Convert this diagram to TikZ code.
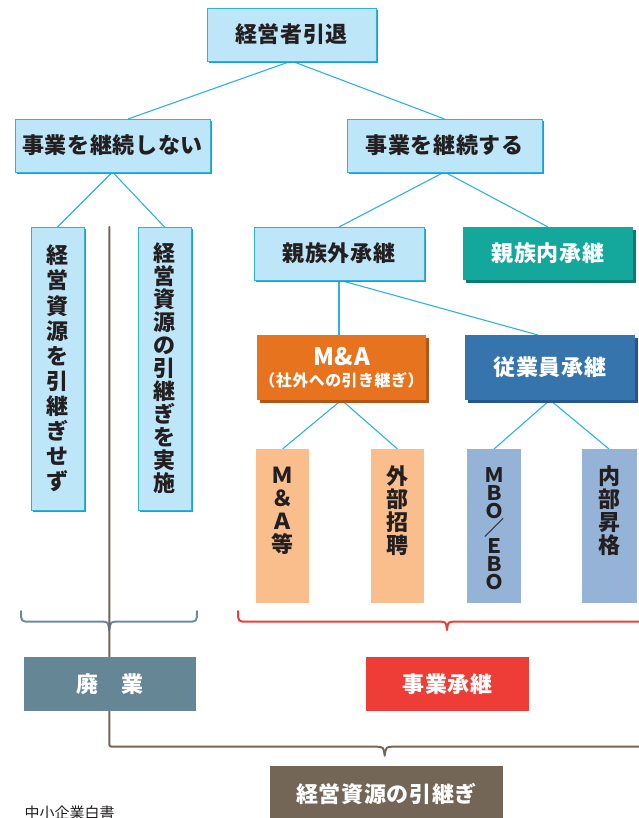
\documentclass[tikz,border=0pt]{standalone}
\usepackage{fontspec}
\setmainfont{Noto Sans CJK JP}
\newfontfamily\jpls{Noto Sans CJK JP}[LetterSpace=3]
\newfontfamily\jp{Noto Sans CJK JP}
\usetikzlibrary{shadows,backgrounds,calc}
\definecolor{cyanl}{HTML}{2DB2E0}
\definecolor{lbfill}{HTML}{BEE6F9}
\definecolor{lbshadow}{HTML}{16A2D4}
\definecolor{teal}{HTML}{13A89B}
\definecolor{tealsh}{HTML}{0B7C72}
\definecolor{orng}{HTML}{E8731F}
\definecolor{orngsh}{HTML}{B35614}
\definecolor{blu}{HTML}{3574AC}
\definecolor{blush}{HTML}{24588A}
\definecolor{peach}{HTML}{FABE8D}
\definecolor{steel}{HTML}{95B3D7}
\definecolor{slate}{HTML}{658694}
\definecolor{bracegray}{HTML}{6C8C9B}
\definecolor{redc}{HTML}{EE3D37}
\definecolor{brownc}{HTML}{736657}
\definecolor{txt}{HTML}{231F20}
\tikzset{
  base/.style={rectangle, inner sep=0pt, outer sep=0pt, text=txt,
    font=\jpls\bfseries\fontsize{22}{22}\selectfont},
  lb/.style={base, fill=lbfill, draw=cyanl, line width=0.8pt,
    drop shadow={shadow xshift=2pt, shadow yshift=-2pt, fill=lbshadow, opacity=1}},
  colbox/.style={base, text=white, fill=#1},
  vstack/.style={align=center, inner sep=0pt, text=txt,
    font=\jp\bfseries\fontsize{22}{#1}\selectfont},
  conn/.style={draw=cyanl, line width=1.1pt},
  bracel/.style={line width=2pt, line cap=round, line join=round}
}
\begin{document}
\begin{tikzpicture}[x=1pt,y=-1pt]
\useasboundingbox (0,0) rectangle (638,818);
% level 0
\node[lb, minimum width=169pt, minimum height=53pt] (n0) at (291.5,34.5) {経営者引退};
% level 1
\node[lb, minimum width=195pt, minimum height=53pt] (n1) at (112.5,145.5) {事業を継続しない};
\node[lb, minimum width=195pt, minimum height=53pt] (n2) at (444.5,145.5) {事業を継続する};
% left tall boxes
\node[lb, vstack=25.1pt, minimum width=53pt, minimum height=283pt] (n3) at (57.5,368.5)
  {経\\営\\資\\源\\を\\引\\継\\ぎ\\せ\\ず};
\node[lb, vstack=23pt, minimum width=53pt, minimum height=283pt] (n4) at (164.5,368.5)
  {経\\営\\資\\源\\の\\引\\継\\ぎ\\を\\実\\施};
% level 2 right
\node[lb, minimum width=170pt, minimum height=53pt] (n5) at (339,253.5) {親族外承継};
\node[colbox=teal, minimum width=170pt, minimum height=53pt,
  drop shadow={shadow xshift=2.5pt, shadow yshift=-2.5pt, fill=tealsh, opacity=1}] (n6) at (548,253.5) {親族内承継};
% level 3
\node[colbox=orng, minimum width=169pt, minimum height=65pt, align=center,
  drop shadow={shadow xshift=2.5pt, shadow yshift=-2.5pt, fill=orngsh, opacity=1}] (n7) at (341.5,367.5)
  {{\fontsize{24}{26}\selectfont M\&A}\\[-1pt]{\fontsize{16}{18}\selectfont （社外への引き継ぎ）}};
\node[colbox=blu, minimum width=170pt, minimum height=65pt,
  drop shadow={shadow xshift=2.5pt, shadow yshift=-2.5pt, fill=blush, opacity=1}] (n8) at (550,367.5) {従業員承継};
% level 4 small boxes
\node[base, fill=peach, minimum width=53pt, minimum height=154pt] (n9) at (282.5,526) {};
\node[base, fill=peach, minimum width=53pt, minimum height=154pt] (n10) at (397.5,526) {};
\node[base, fill=steel, minimum width=54pt, minimum height=154pt] (n11) at (494,526) {};
\node[base, fill=steel, minimum width=55pt, minimum height=154pt] (n12) at (609,526) {};
\node[vstack=23pt] (t9) at (282.5,511) {Ｍ\\＆\\Ａ\\等};
\node[vstack=23pt] (t10) at (397.5,511) {外\\部\\招\\聘};
\node[vstack=17.8pt, font=\jp\bfseries\fontsize{20}{17.8}\selectfont] (t11) at (494,528.5) {Ｍ\\Ｂ\\Ｏ\\／\\Ｅ\\Ｂ\\Ｏ};
\node[vstack=23pt] (t12) at (609,511) {内\\部\\昇\\格};
% bottom boxes
\node[colbox=slate, minimum width=172pt, minimum height=54pt] (n13) at (110,684) {廃　業};
\node[colbox=redc, minimum width=163pt, minimum height=54pt] (n14) at (447.5,684) {事業承継};
\node[colbox=brownc, minimum width=233pt, minimum height=56pt] (n15) at (386.5,794) {経営資源の引継ぎ};
\node[anchor=west, inner sep=0pt, text=txt, font=\jp\fontsize{15}{15}\selectfont] (src) at (24.5,813) {中小企業白書};
% connectors and braces
\begin{pgfonlayer}{background}
\draw[conn] (n0.south) -- ($(n1.north)+(15.5,0)$);
\draw[conn] (n0.south) -- (n2.north);
\draw[conn] (n1.south) -- (n3.north);
\draw[conn] (n1.south) -- (n4.north);
\draw[conn] (n2.south) -- (n5.north);
\draw[conn] (n2.south) -- (n6.north);
\draw[conn] (n5.south) -- (n5.south |- n7.north);
\draw[conn] (n5.south) -- ($(n8.north)+(-12,0)$);
\draw[conn] (n7.south) -- (n9.north);
\draw[conn] (n7.south) -- (n10.north);
\draw[conn] (n8.south) -- (n11.north);
\draw[conn] (n8.south) -- (n12.north);
% gray-blue brace
\draw[bracel, draw=bracegray] (21,611) .. controls (21,621.7) .. (31,621.7) -- (101,621.7)
  .. controls (108,621.7) .. (109.3,630) .. controls (110.6,621.7) .. (117.6,621.7)
  -- (187,621.7) .. controls (197,621.7) .. (197,611);
% red brace
\draw[bracel, draw=redc] (238,611) .. controls (238,621.7) .. (248,621.7) -- (439,621.7)
  .. controls (446,621.7) .. (447,630) .. controls (448,621.7) .. (455,621.7) -- (650,621.7);
% brown line
\draw[bracel, draw=brownc] (109.3,227) -- (109.3,741.7) .. controls (109.3,746.7) .. (114.3,746.7)
  -- (375,746.7) .. controls (383.5,746.7) .. (384.7,755.7) .. controls (385.9,746.7) .. (394.4,746.7)
  -- (660,746.7);
\end{pgfonlayer}
\end{tikzpicture}
\end{document}
